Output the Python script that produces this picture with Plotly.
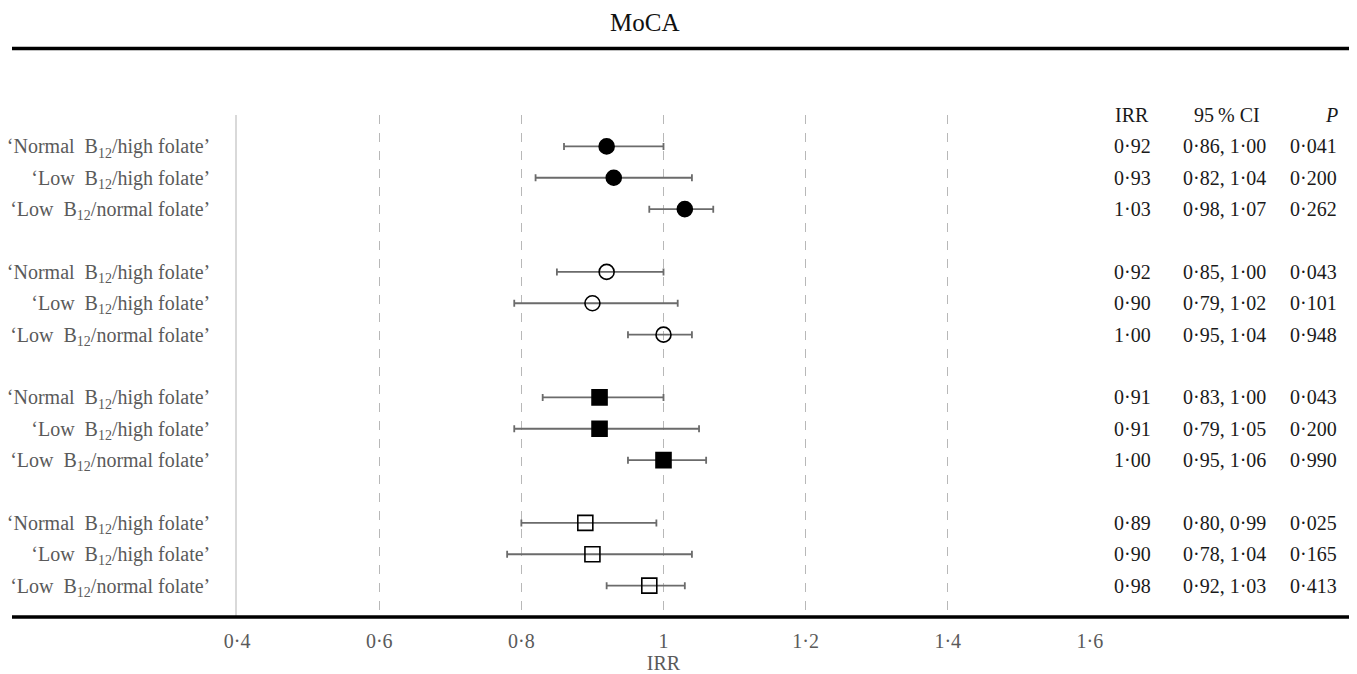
import plotly.graph_objects as go

# ---- data ----
labels = ["‘Normal\u00a0\u00a0B<sub>12</sub>/high folate’",
          "‘Low\u00a0\u00a0B<sub>12</sub>/high folate’",
          "‘Low\u00a0\u00a0B<sub>12</sub>/normal folate’"]
groups = ["g1", "g2", "g3", "g4"]
irr = [[0.92, 0.93, 1.03], [0.92, 0.90, 1.00], [0.91, 0.91, 1.00], [0.89, 0.90, 0.98]]
ci_low = [[0.86, 0.82, 0.98], [0.85, 0.79, 0.95], [0.83, 0.79, 0.95], [0.80, 0.78, 0.92]]
ci_high = [[1.00, 1.04, 1.07], [1.00, 1.02, 1.04], [1.00, 1.05, 1.06], [0.99, 1.04, 1.03]]
p_vals = [["0·041", "0·200", "0·262"], ["0·043", "0·101", "0·948"],
          ["0·043", "0·200", "0·990"], ["0·025", "0·165", "0·413"]]
x_ticks = [0.4, 0.6, 0.8, 1.0, 1.2, 1.4, 1.6]
x_ticktext = ["0·4", "0·6", "0·8", "1", "1·2", "1·4", "1·6"]

symbols = ["circle", "circle-open", "square", "square-open"]

W, H = 1357, 674
OFF = 8  # page body margin
FONT = "Liberation Serif, Times New Roman, serif"
GREY = "#5a5a5a"
TCOL = "#1a1a1a"
FS = 20


def fx(p):
    return (p - OFF) / W


def fy(p):
    return 1 - (p - OFF) / H


def fmt(v):
    return f"{v:.2f}".replace(".", "·")


fig = go.Figure()
tickvals, ticktext = [], []
for gi in range(len(groups)):
    ys = [gi * 4 + k for k in range(3)]
    tickvals += ys
    ticktext += labels
    fig.add_trace(go.Scatter(
        x=irr[gi], y=ys, mode="markers",
        marker=dict(symbol=symbols[gi], size=15,
                    color="black", line=dict(color="black", width=1.6)),
        error_x=dict(type="data", symmetric=False,
                     array=[h - v for h, v in zip(ci_high[gi], irr[gi])],
                     arrayminus=[v - l for v, l in zip(irr[gi], ci_low[gi])],
                     color="#6b6b6b", thickness=1.8, width=3.5),
        showlegend=False, hoverinfo="skip"))

px_l, px_r = 237, 1090
py_t, py_b = 115, 617
fig.update_layout(
    width=W, height=H,
    margin=dict(l=0, r=0, t=0, b=0, autoexpand=False),
    plot_bgcolor="white", paper_bgcolor="white",
    font=dict(family=FONT, size=FS, color=GREY),
    xaxis=dict(domain=[fx(px_l), fx(px_r)], range=[0.3999, 1.6001],
               tickvals=x_ticks, ticktext=x_ticktext, automargin=False,
               showgrid=True, gridcolor="#b8b8b8", griddash="dash", gridwidth=1.3,
               zeroline=False, showline=False, ticks="",
               ticklabelstandoff=10,
               tickfont=dict(family=FONT, size=FS, color=GREY),
               title=dict(text="IRR", font=dict(family=FONT, size=20, color=GREY), standoff=3)),
    yaxis=dict(domain=[fy(py_b), fy(py_t)], range=[15, -1], automargin=False,
               tickvals=tickvals, ticktext=ticktext,
               showgrid=False, zeroline=False,
               showline=True, linecolor="#d9d9d9", linewidth=1.5,
               ticks="", ticklabelstandoff=21,
               tickfont=dict(family=FONT, size=FS, color=GREY)),
)

# thick horizontal rules
fig.add_shape(type="line", xref="paper", yref="paper", x0=fx(12), x1=1.0,
              y0=fy(48.5), y1=fy(48.5), line=dict(color="black", width=3.5))
fig.add_shape(type="line", xref="paper", yref="paper", x0=fx(12), x1=fx(1353),
              y0=fy(617), y1=fy(617), line=dict(color="black", width=3.5))

# title
fig.add_annotation(text="MoCA", xref="paper", yref="paper", x=fx(644), y=fy(22.5),
                   xanchor="center", yanchor="middle",
                   showarrow=False, font=dict(family=FONT, size=25, color="#111111"))

# table header
hy = fy(115)
fig.add_annotation(text="IRR", xref="paper", yref="paper", x=fx(1132), y=hy, showarrow=False,
                   xanchor="center", yanchor="middle", font=dict(family=FONT, size=FS, color=TCOL))
fig.add_annotation(text="95\u2009% CI", xref="paper", yref="paper", x=fx(1227), y=hy, showarrow=False,
                   xanchor="center", yanchor="middle", font=dict(family=FONT, size=FS, color=TCOL))
fig.add_annotation(text="<i>P</i>", xref="paper", yref="paper", x=fx(1340), y=hy, showarrow=False,
                   xanchor="right", yanchor="middle", font=dict(family=FONT, size=FS, color=TCOL))
# table rows
for gi in range(len(groups)):
    for k in range(3):
        yv = gi * 4 + k
        fig.add_annotation(text=fmt(irr[gi][k]), xref="paper", yref="y", x=fx(1132), y=yv,
                           xanchor="center", yanchor="middle", showarrow=False,
                           font=dict(family=FONT, size=FS, color=TCOL))
        fig.add_annotation(text=f"{fmt(ci_low[gi][k])}, {fmt(ci_high[gi][k])}",
                           xref="paper", yref="y", x=fx(1224), y=yv,
                           xanchor="center", yanchor="middle", showarrow=False,
                           font=dict(family=FONT, size=FS, color=TCOL))
        fig.add_annotation(text=p_vals[gi][k], xref="paper", yref="y", x=fx(1339), y=yv,
                           xanchor="right", yanchor="middle", showarrow=False,
                           font=dict(family=FONT, size=FS, color=TCOL))

fig.write_html("out.html")
